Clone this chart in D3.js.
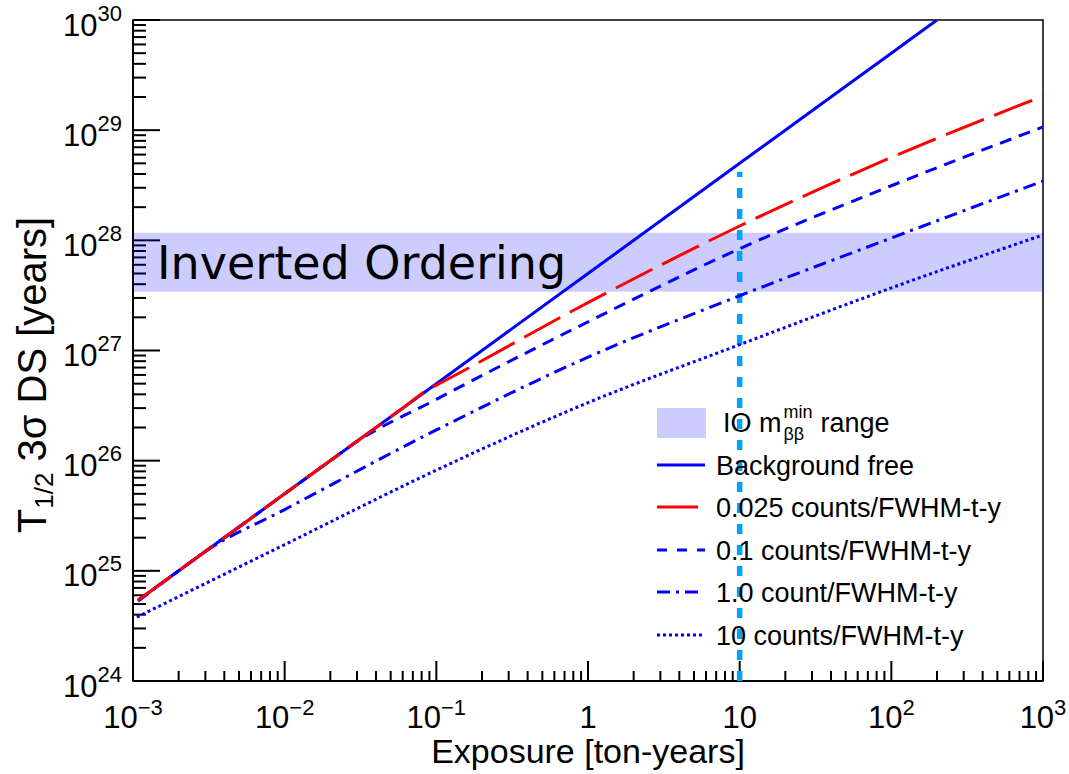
<!DOCTYPE html>
<html><head><meta charset="utf-8">
<script src="https://cdn.jsdelivr.net/npm/d3@7"></script>
<style>body{margin:0;background:#fff} svg{display:block}</style>
</head><body><svg id="c" width="1069" height="774"></svg>
<script>
// ---- data ----
const xTicksMajor = [1e-3, 1e-2, 1e-1, 1, 10, 1e2, 1e3];
const xTickLabels = [["10","−3"],["10","−2"],["10","−1"],["1",""],["10",""],["10","2"],["10","3"]];
const yTicksMajor = [1e24, 1e25, 1e26, 1e27, 1e28, 1e29, 1e30];
const yTickLabels = [["10","24"],["10","25"],["10","26"],["10","27"],["10","28"],["10","29"],["10","30"]];

const seriesNames = ["Background free", "0.025 counts/FWHM-t-y", "0.1 counts/FWHM-t-y", "1.0 count/FWHM-t-y", "10 counts/FWHM-t-y"];
const bgFreeE = [0.00108, 0.01, 0.1, 1, 10, 100, 200];
const bgFreeT = [5.4e24, 5e25, 5e26, 5e27, 5e28, 5e29, 1e30];
const bg0025E = [0.00108, 0.003, 0.01, 0.03, 0.06, 0.09, 0.1, 1, 10, 100, 1000];
const bg0025T = [5.4e24, 1.5e25, 5e25, 1.5e26, 3e26, 4.5e26, 4.85e26, 2.72e27, 1.35e28, 5.66e28, 2.04e29];
const bg01E = [0.00108, 0.003, 0.01, 0.02, 0.028, 0.1, 1, 10, 100, 1000];
const bg01T = [5.4e24, 1.5e25, 5e25, 1e26, 1.4e26, 3.6e26, 1.82e27, 8.4e27, 3.13e28, 1.07e29];
const bg1E = [0.00108, 0.002, 0.003, 0.01, 0.1, 1, 10, 100, 1000];
const bg1T = [5.3e24, 1e25, 1.5e25, 3.6e25, 1.9e26, 8.7e26, 3.14e27, 1.05e28, 3.45e28];
const bg10E = [0.00106, 0.01, 0.1, 1, 10, 100, 1000];
const bg10T = [3.8e24, 1.73e25, 8.2e25, 3.36e26, 1.13e27, 3.7e27, 1.12e28];

const ioBand = [3.42e27, 1.17e28];
const ioLabel = "Inverted Ordering";
const markerE = 10;
const markerT = [1e24, 4.2e28];

// ---- layout ----
const L = 133, R = 1043, T = 20, B = 681;
const svg = d3.select("#c");
const x = d3.scaleLog().domain([1e-3, 1e3]).range([L, R]);
const y = d3.scaleLog().domain([1e24, 1e30]).range([B, T]);
const FONT = "'Liberation Sans', Arial, Helvetica, sans-serif";

svg.append("defs").append("clipPath").attr("id","clip")
  .append("rect").attr("x",L).attr("y",T).attr("width",R-L).attr("height",B-T);

// frame
svg.append("rect").attr("x",L).attr("y",T).attr("width",R-L).attr("height",B-T)
  .attr("fill","none").attr("stroke","#000").attr("stroke-width",1.5);

function minors(lo, hi){ const a=[]; for(let e=lo;e<hi;e++){ for(let k=2;k<=9;k++) a.push(k*Math.pow(10,e)); } return a; }
const xMinor = minors(-3,3), yMinor = minors(24,30);

// x axis
const gx = svg.append("g");
gx.append("line").attr("x1",L).attr("x2",R).attr("y1",B).attr("y2",B).attr("stroke","#000").attr("stroke-width",2);
gx.selectAll("line.mj").data(xTicksMajor).enter().append("line")
  .attr("x1",d=>x(d)).attr("x2",d=>x(d)).attr("y1",B).attr("y2",B-20).attr("stroke","#000").attr("stroke-width",2);
gx.selectAll("line.mn").data(xMinor).enter().append("line")
  .attr("x1",d=>x(d)).attr("x2",d=>x(d)).attr("y1",B).attr("y2",B-10).attr("stroke","#000").attr("stroke-width",2);
xTicksMajor.forEach((v,i)=>{
  const t = gx.append("text").attr("x",x(v)).attr("y",728).attr("text-anchor","middle")
    .attr("font-family",FONT).attr("font-size",31).attr("fill","#000");
  t.append("tspan").text(xTickLabels[i][0]);
  if (xTickLabels[i][1]) t.append("tspan").attr("dy",-13).attr("font-size",22).text(xTickLabels[i][1]);
});

// y axis
const gy = svg.append("g");
gy.append("line").attr("x1",L).attr("x2",L).attr("y1",T).attr("y2",B).attr("stroke","#000").attr("stroke-width",2);
gy.selectAll("line.mj").data(yTicksMajor).enter().append("line")
  .attr("x1",L).attr("x2",L+27).attr("y1",d=>y(d)).attr("y2",d=>y(d)).attr("stroke","#000").attr("stroke-width",2);
gy.selectAll("line.mn").data(yMinor).enter().append("line")
  .attr("x1",L).attr("x2",L+13).attr("y1",d=>y(d)).attr("y2",d=>y(d)).attr("stroke","#000").attr("stroke-width",2);
yTicksMajor.forEach((v,i)=>{
  const t = gy.append("text").attr("x",122).attr("y",y(v)+15.5).attr("text-anchor","end")
    .attr("font-family",FONT).attr("font-size",31).attr("fill","#000");
  t.append("tspan").text(yTickLabels[i][0]);
  t.append("tspan").attr("dy",-15).attr("font-size",22).text(yTickLabels[i][1]);
});

// axis titles
svg.append("text").attr("x",(L+R)/2).attr("y",763).attr("text-anchor","middle")
  .attr("font-family",FONT).attr("font-size",34).text("Exposure [ton-years]");
const yt = svg.append("text").attr("transform","translate(46,375) rotate(-90)").attr("text-anchor","middle")
  .attr("font-family",FONT).attr("font-size",40);
yt.append("tspan").text("T");
yt.append("tspan").attr("dy",7).attr("font-size",26).text("1/2");
yt.append("tspan").attr("dy",-7).text(" 3σ DS [years]");

// IO band (semi-transparent, over axis ticks)
svg.append("rect").attr("x",L).attr("width",R-L)
  .attr("y",y(ioBand[1])).attr("height",y(ioBand[0])-y(ioBand[1]))
  .attr("fill","rgb(0,0,255)").attr("fill-opacity",0.2);
svg.append("text").attr("x",157).attr("y",279).attr("font-family","'DejaVu Sans', Verdana, sans-serif")
  .attr("font-size",46).attr("fill","#000").text(ioLabel);

// curves
const line = d3.line().x(d=>x(d[0])).y(d=>y(d[1])).curve(d3.curveMonotoneX);
const zip = (a,b)=>a.map((v,i)=>[v,b[i]]);
const styles = [
  {E:bgFreeE, T:bgFreeT, color:"#0000ff", dash:null},
  {E:bg0025E, T:bg0025T, color:"#ff0000", dash:"41 11"},
  {E:bg01E, T:bg01T, color:"#0000ff", dash:"12 8"},
  {E:bg1E, T:bg1T, color:"#0000ff", dash:"13 6 3 6"},
  {E:bg10E, T:bg10T, color:"#0000ff", dash:"3 3"}
];
const gc = svg.append("g").attr("clip-path","url(#clip)");
gc.append("line").attr("x1",x(markerE)).attr("x2",x(markerE)).attr("y1",y(markerT[0])).attr("y2",y(markerT[1]))
  .attr("stroke","#00a2ff").attr("stroke-width",5.5).attr("stroke-dasharray","10 11");
[4,3,2,0,1].forEach(i=>{
  const s = styles[i];
  gc.append("path").attr("d",line(zip(s.E,s.T))).attr("fill","none").attr("stroke",s.color)
    .attr("stroke-width",3).attr("stroke-dasharray",s.dash);
});

// legend
const lg = svg.append("g");
lg.append("rect").attr("x",657).attr("y",408).attr("width",49).attr("height",30)
  .attr("fill","rgb(0,0,255)").attr("fill-opacity",0.2);
const io1 = lg.append("text").attr("x",723).attr("y",432).attr("font-family",FONT).attr("font-size",27).text("IO m");
const w1 = io1.node().getComputedTextLength();
const sx = 723 + w1 + 2;
const sup = lg.append("text").attr("x",sx).attr("y",418).attr("font-family",FONT).attr("font-size",18).text("min");
lg.append("text").attr("x",sx).attr("y",440).attr("font-family",FONT).attr("font-size",18).text("ββ");
const ws = sup.node().getComputedTextLength();
lg.append("text").attr("x",sx+ws+8).attr("y",432).attr("font-family",FONT).attr("font-size",27).text("range");
const legY = [465, 507, 550, 592, 635];
const legX2 = [705, 698, 705, 700, 705];
styles.forEach((s,i)=>{
  lg.append("line").attr("x1",657).attr("x2",legX2[i]).attr("y1",legY[i]).attr("y2",legY[i])
    .attr("stroke",s.color).attr("stroke-width",3).attr("stroke-dasharray",i===1?null:(i===2?"10 10":s.dash));
  lg.append("text").attr("x",716).attr("y",legY[i]+9.5).attr("font-family",FONT).attr("font-size",27).text(seriesNames[i]);
});
</script></body></html>
